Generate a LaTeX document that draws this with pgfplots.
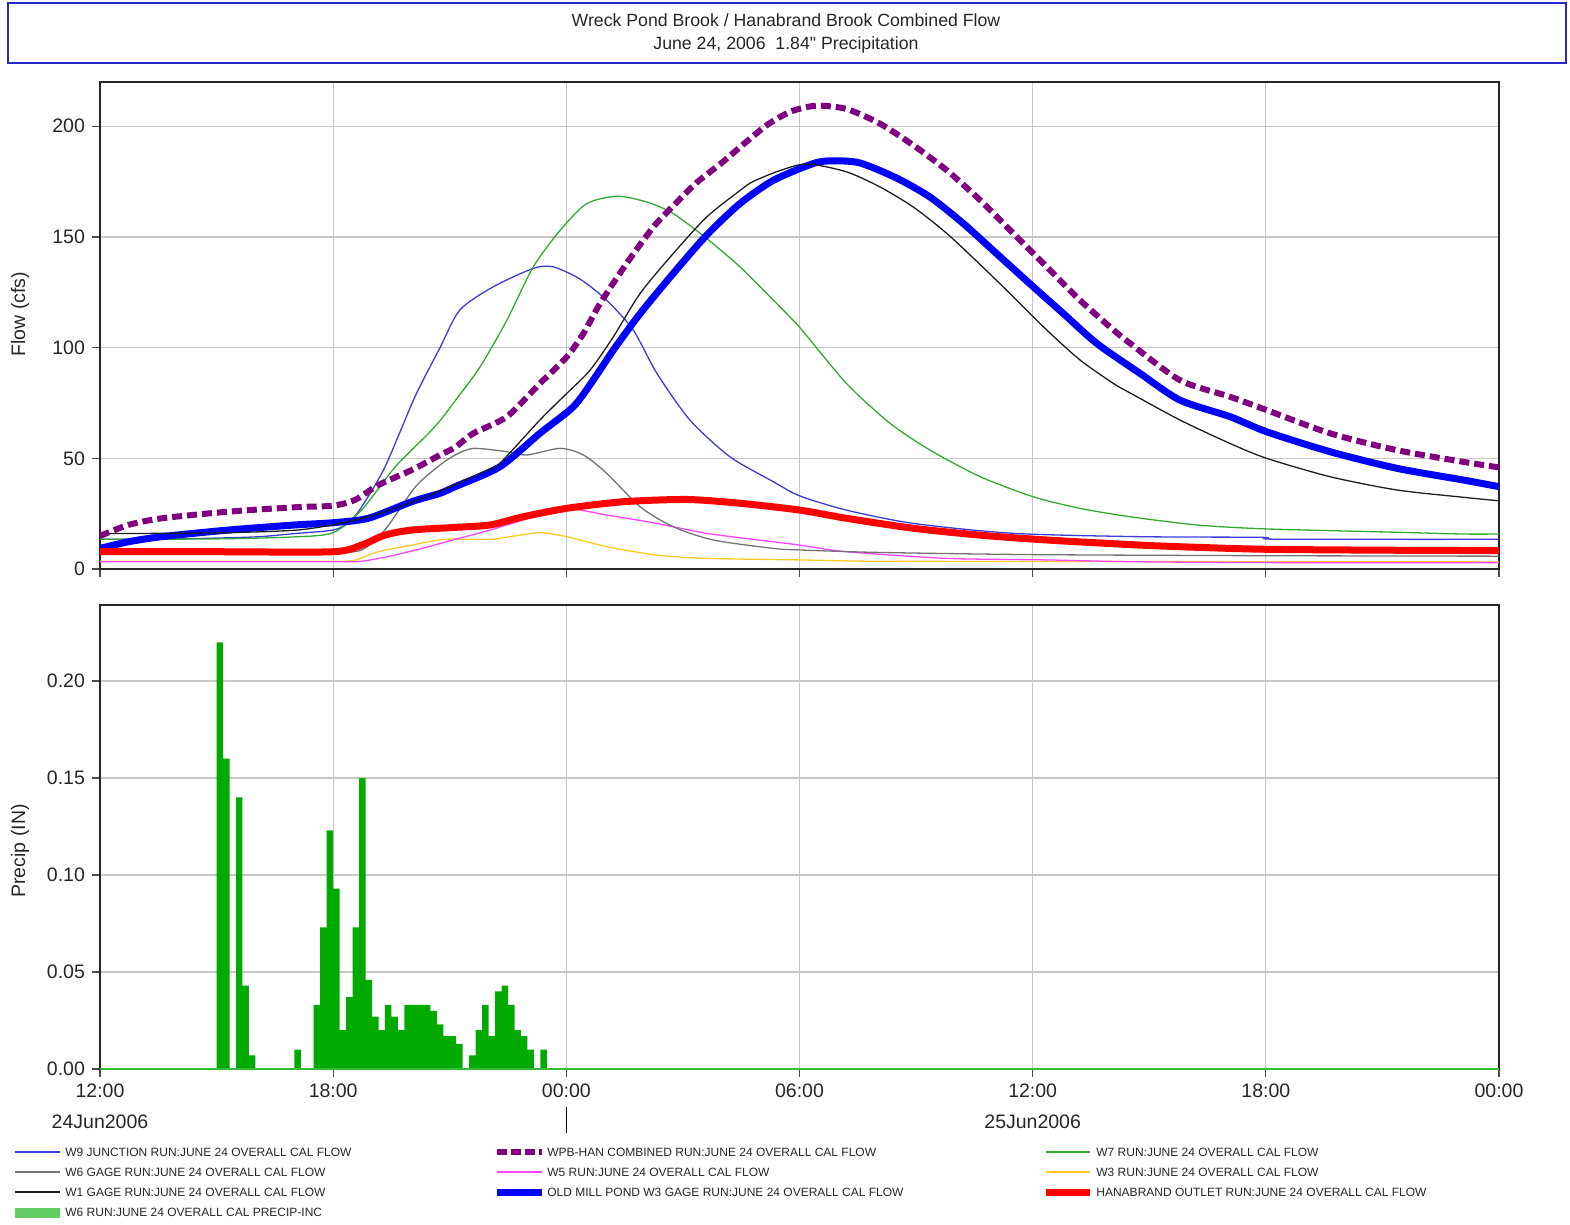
\documentclass[border=0pt]{standalone}
\usepackage{pgfplots}
\pgfplotsset{compat=1.18}
\usepackage{fontspec}
\setmainfont{Liberation Sans}
\newfontfamily\qfont{Liberation Sans}[Ligatures=TeXOff]
\definecolor{gridgray}{RGB}{200,200,200}
\definecolor{titleblue}{RGB}{40,40,200}
\definecolor{wnine}{RGB}{60,60,215}
\definecolor{wsix}{RGB}{115,115,115}
\definecolor{wone}{RGB}{30,30,30}
\definecolor{wseven}{RGB}{50,170,50}
\definecolor{wfive}{RGB}{250,70,250}
\definecolor{wthree}{RGB}{255,200,40}
\definecolor{oldmill}{RGB}{0,0,255}
\definecolor{wpb}{RGB}{128,0,128}
\definecolor{hana}{RGB}{255,0,0}
\definecolor{bargreen}{RGB}{0,170,0}
\definecolor{leggreen}{RGB}{100,205,100}
\newcommand{\tickfont}{\fontsize{9.75}{11}\selectfont}
\newcommand{\legfont}{\fontsize{6}{7}\selectfont}
\pgfplotsset{
  hms/.style={
    scale only axis, width=699.5pt,
    xmin=0, xmax=36,
    xtick={0,6,12,18,24,30,36},
    grid=major, grid style={draw=gridgray, line width=0.6pt},
    axis line style={draw=black!85, line width=0.6pt},
    tick style={draw=black!70, line width=0.6pt},
    tick align=outside, major tick length=4pt,
    xtick pos=bottom, ytick pos=left,
    /pgf/number format/assume math mode=true,
    tick label style={font=\tickfont, text=black!85},
    label style={font=\tickfont, text=black!85},
    clip=true,
  },
  thin/.style={line width=0.65pt, smooth, tension=0.45},
  thick/.style={line width=3.5pt, smooth, tension=0.45, line join=round},
}
\begin{document}
\begin{tikzpicture}
\useasboundingbox (0,0) rectangle (785pt,-612.5pt);
% title box
\draw[titleblue, line width=0.75pt] (4pt,-1.5pt) rectangle (783pt,-31.5pt);
\node[font=\fontsize{8.85}{10}\selectfont, text=black!85] at (393pt,-10pt) {Wreck Pond Brook / Hanabrand Brook Combined Flow};
\node[font=\fontsize{8.85}{10}\selectfont, text=black!85] at (393pt,-22.5pt) {June 24, 2006\ \ 1.84{\qfont"} Precipitation};

% ---------------- flow axis ----------------
\begin{axis}[hms,
  at={(50pt,-284.5pt)}, anchor=south west, height=243.5pt,
  ymin=0, ymax=220, ytick={0,50,100,150,200},
  xticklabels={}, 
  ylabel={Flow (cfs)},
  ylabel style={at={(axis description cs:-0.0572,0.523)}, anchor=center},
]
% W3 run (yellow)
\addplot[wthree, thin] coordinates {
(0,3.5) (3,3.5) (6,3.5) (6.56,4) (7.16,7.8) (8.02,10.8) (8.88,13.4) (10.04,13.4) (10.7,15) (11.32,16.4) (12.01,14.6) (13.04,10.1) (14.33,6.3) (15.61,4.8) (18.01,4.1) (20,3.5) (25,3.4) (30,3.3) (36,3.2)};
% W5 run (magenta)
\addplot[wfive, thin] coordinates {
(0,3.3) (3,3.3) (6,3.3) (6.73,3.5) (7.59,6.3) (8.44,10) (9.14,13.4) (10.04,17.6) (11.32,24.4) (12.01,27.4) (13.04,24.4) (14.33,20.6) (15.61,16.1) (17.33,12.3) (18.01,10.8) (19.21,7.8) (21.79,4.8) (24.36,4.1) (26.51,3.3) (30,2.9) (36,2.8)};
% W6 gage (gray)
\addplot[wsix, thin] coordinates {
(0,7) (3,7) (5,7) (6,7.3) (6.73,8.6) (7.33,17.6) (8.11,37) (8.75,47) (9.14,51.5) (9.61,54.5) (10.47,53) (10.98,51.5) (11.84,54.5) (12.44,51.5) (13.04,43.2) (13.90,28.1) (14.75,19.1) (15.78,13.1) (17.33,9.3) (18.01,8.6) (20,7.5) (24,6.5) (30,6) (36,5.8)};
% W9 junction (blue thin)
\addplot[wnine, thin] coordinates {
(0,13.4) (2,13.6) (4,14.5) (5,16) (6,17.6) (6.4,21) (6.73,28) (7.33,46) (8.11,78) (8.75,100) (9.26,117) (10.12,127.5) (11.15,135.8) (11.66,136.5) (12.35,131) (13.04,121.4) (13.72,108) (14.33,88.4) (15.18,67.3) (16.21,50.7) (17.33,39.4) (18.01,33) (19.21,26.6) (20.93,20.6) (23.50,16.1) (26.76,14.6) (29.9,14.3) (30.1,13.5) (33,13.4) (36,13.4)};
% W7 run (green)
\addplot[wseven, thin] coordinates {
(0,13.4) (3,13.6) (5,14.5) (6,16.4) (6.73,26.6) (7.59,46) (8.44,61) (8.75,67) (9.14,76) (9.78,91.3) (10.47,112.4) (11.15,136.5) (11.84,153) (12.52,165) (13.30,168.4) (14.07,165.8) (14.75,160.6) (15.61,149.3) (16.47,136.5) (17.33,121.4) (18.01,109) (19.21,83.8) (20.33,65.8) (21.36,53.7) (22.65,41.7) (24.02,32.6) (25.22,27.4) (26.51,23.6) (28.22,19.9) (30.02,18.1) (33.37,16.6) (35.08,15.8) (36,15.8)};
% Old Mill Pond W3 gage (thick blue)
\addplot[oldmill, thick] coordinates {
(0,9.3) (0.73,12.3) (1.59,14.6) (3.30,17.6) (5.02,19.9) (5.99,20.9) (6.90,22.9) (8.02,30.4) (8.75,34.2) (9.14,37.2) (10.29,46.2) (11.32,61.3) (12.18,73.3) (12.69,85.3) (13.21,98.9) (13.90,115.4) (14.75,133.5) (15.61,150.8) (16.47,165.1) (17.33,175.6) (18.36,183.2) (18.87,184.4) (19.56,183.4) (20.50,176.6) (21.36,168) (22.22,156) (23.07,142.5) (24.02,127.4) (24.79,115.4) (25.65,101.9) (26.76,88.4) (27.79,76.3) (29.08,68.8) (30.02,62) (31.65,53) (33.37,45.5) (35.08,40.2) (36,37.2)};
% W1 gage (black)
\addplot[wone, thin] coordinates {
(0,16) (3,16.3) (5,17.5) (6,20) (7,24) (8,30) (9,37) (10,45) (10.29,47.7) (11.32,67.3) (12.01,79.3) (12.61,89.8) (13.21,104.9) (13.90,124.5) (14.75,142.5) (15.61,159) (16.47,171) (16.80,175) (17.50,180) (18.2,183) (19.21,179.4) (20.07,172.6) (20.93,163.5) (21.79,151.6) (22.65,137.5) (23.50,123) (24.36,108) (25.22,94.4) (26.08,83.8) (26.51,79.5) (27.79,67.3) (29.08,56.7) (30.02,50) (31.65,41.7) (33.37,35.7) (35.08,32.4) (36,30.8)};
% Hanabrand outlet (thick red)
\addplot[hana, thick] coordinates {
(0,7.8) (3,7.8) (5.99,7.8) (6.73,10.8) (7.33,15.3) (8.02,17.6) (9.14,18.8) (10.04,19.9) (10.89,23.6) (12.01,27.4) (13.47,30.4) (15.10,31.4) (16.47,29.7) (18.01,26.6) (19.21,22.9) (20.93,18.4) (22.65,15.3) (24.36,13.1) (26.76,10.8) (28.22,9.8) (30.02,8.9) (33,8.5) (36,8.3)};
% WPB-HAN combined (purple dashed)
\addplot[wpb, line width=3pt, smooth, tension=0.45, dash pattern=on 5pt off 2.5pt] coordinates {
(0,14.9) (0.73,19.9) (1.59,22.9) (3.30,25.9) (5.02,27.9) (5.99,28.6) (6.56,31.2) (7.16,37.9) (8.02,44.7) (8.75,51.5) (9.14,55) (9.61,61.3) (10.47,68.8) (11.32,83.8) (12.01,95.8) (12.44,106.4) (12.87,120) (13.55,138) (14.24,154.5) (14.75,164) (15.35,174.5) (16.0,183.5) (16.6,192.5) (17.20,201) (17.80,206.8) (18.44,209.3) (19.21,207.8) (20.07,201.2) (20.93,191.4) (21.79,180.1) (22.65,166.6) (23.50,151.6) (24.36,136.5) (25.22,121.4) (26.08,108) (26.51,101.9) (27.79,85.3) (29.08,77.8) (30.02,71.8) (31.65,61.3) (33.37,53.7) (35.08,48.4) (36,45.9)};
\end{axis}

% ---------------- precip axis ----------------
\begin{axis}[hms,
  at={(50pt,-534.5pt)}, anchor=south west, height=232pt,
  ymin=0, ymax=0.2392,
  ytick={0,0.05,0.1,0.15,0.2},
  yticklabels={0.00,0.05,0.10,0.15,0.20},
  xticklabels={12:00,18:00,00:00,06:00,12:00,18:00,00:00},
  ylabel={Precip (IN)},
  ylabel style={at={(axis description cs:-0.0572,0.47)}, anchor=center},
  clip=false,
]
\addplot[ybar interval, fill=bargreen, draw=none] coordinates {
(3.0,0.22) (3.1667,0.16) (3.3333,0) (3.5,0.14) (3.6667,0.043) (3.8333,0.007)
(4.0,0) (4.1667,0) (4.3333,0) (4.5,0) (4.6667,0) (4.8333,0)
(5.0,0.01) (5.1667,0) (5.3333,0) (5.5,0.033) (5.6667,0.073) (5.8333,0.123)
(6.0,0.093) (6.1667,0.02) (6.3333,0.037) (6.5,0.073) (6.6667,0.15) (6.8333,0.046)
(7.0,0.027) (7.1667,0.02) (7.3333,0.033) (7.5,0.027) (7.6667,0.02) (7.8333,0.033)
(8.0,0.033) (8.1667,0.033) (8.3333,0.033) (8.5,0.03) (8.6667,0.023) (8.8333,0.017)
(9.0,0.017) (9.1667,0.013) (9.3333,0) (9.5,0.007) (9.6667,0.02) (9.8333,0.033)
(10.0,0.017) (10.1667,0.04) (10.3333,0.043) (10.5,0.033) (10.6667,0.02) (10.8333,0.017)
(11.0,0.01) (11.1667,0) (11.3333,0.01) (11.5,0)};
\addplot[bargreen!80!white, line width=0.8pt] coordinates {(0,0) (36,0)};
\node[font=\tickfont, text=black!85] at (axis cs:0,0) [yshift=-26.5pt] {24Jun2006};
\node[font=\tickfont, text=black!85] at (axis cs:24,0) [yshift=-26.5pt] {25Jun2006};
\draw[black, line width=0.6pt] (axis cs:12,0) ++(0,-19pt) -- ++(0,-13pt);
\end{axis}

% ---------------- legend ----------------
\begin{scope}[every node/.style={font=\legfont, anchor=west, inner sep=0pt, text=black!85}]
% column 1
\draw[wnine, line width=0.6pt] (7.5pt,-576pt) -- (30pt,-576pt);
\node at (32.5pt,-576pt) {W9 JUNCTION RUN:JUNE 24 OVERALL CAL FLOW};
\draw[wsix, line width=0.6pt] (7.5pt,-586pt) -- (30pt,-586pt);
\node at (32.5pt,-586pt) {W6 GAGE RUN:JUNE 24 OVERALL CAL FLOW};
\draw[wone, line width=0.6pt] (7.5pt,-596pt) -- (30pt,-596pt);
\node at (32.5pt,-596pt) {W1 GAGE RUN:JUNE 24 OVERALL CAL FLOW};
\fill[leggreen] (7.5pt,-604pt) rectangle (30pt,-609pt);
\node at (32.5pt,-606pt) {W6 RUN:JUNE 24 OVERALL CAL PRECIP-INC};
% column 2
\draw[wpb, line width=3pt, dash pattern=on 5pt off 2pt] (248.5pt,-576pt) -- (271pt,-576pt);
\node at (273.5pt,-576pt) {WPB-HAN COMBINED RUN:JUNE 24 OVERALL CAL FLOW};
\draw[wfive, line width=0.6pt] (248.5pt,-586pt) -- (271pt,-586pt);
\node at (273.5pt,-586pt) {W5 RUN:JUNE 24 OVERALL CAL FLOW};
\draw[oldmill, line width=3.5pt] (248.5pt,-596pt) -- (271pt,-596pt);
\node at (273.5pt,-596pt) {OLD MILL POND W3 GAGE RUN:JUNE 24 OVERALL CAL FLOW};
% column 3
\draw[wseven, line width=0.6pt] (523pt,-576pt) -- (545pt,-576pt);
\node at (548pt,-576pt) {W7 RUN:JUNE 24 OVERALL CAL FLOW};
\draw[wthree, line width=0.6pt] (523pt,-586pt) -- (545pt,-586pt);
\node at (548pt,-586pt) {W3 RUN:JUNE 24 OVERALL CAL FLOW};
\draw[hana, line width=3.5pt] (523pt,-596pt) -- (545pt,-596pt);
\node at (548pt,-596pt) {HANABRAND OUTLET RUN:JUNE 24 OVERALL CAL FLOW};
\end{scope}
\end{tikzpicture}
\end{document}
